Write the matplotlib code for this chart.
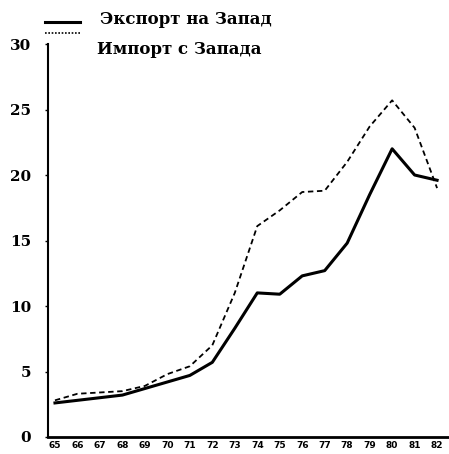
import matplotlib.pyplot as plt
from matplotlib.lines import Line2D

# Годы (последние две цифры) и значения
years = list(range(65, 83))
year_labels = [str(y) for y in years]
export_west = [2.6, 2.8, 3.0, 3.2, 3.7, 4.2, 4.7, 5.7, 8.3, 11.0, 10.9, 12.3, 12.7, 14.8, 18.5, 22.0, 20.0, 19.6]
import_west = [2.8, 3.3, 3.4, 3.5, 3.9, 4.8, 5.4, 7.0, 11.0, 16.1, 17.3, 18.7, 18.8, 21.0, 23.7, 25.7, 23.6, 19.0]
y_ticks = [0, 5, 10, 15, 20, 25, 30]

W, H = 449, 454
fig = plt.figure(figsize=(W / 100, H / 100), dpi=100)
ax = fig.add_axes([48 / W, (H - 437) / H, 1 - 48 / W, (437 - 44) / H])

ax.plot(years, export_west, color='black', lw=2.2, solid_joinstyle='round')
ax.plot(years, import_west, color='black', lw=1.3, linestyle=(0, (3, 2)))

ax.set_xlim(64.69, 82.53)
ax.set_ylim(0, 30)
ax.set_xticks(years)
ax.set_xticklabels(year_labels, fontsize=6.5, family='DejaVu Sans', fontweight='bold')
ax.set_yticks(y_ticks)
ax.set_yticklabels([str(v) for v in y_ticks], fontsize=11, family='DejaVu Serif',
                   fontweight='bold')
ax.tick_params(axis='x', length=0, pad=3)
ax.tick_params(axis='y', length=2, width=1, pad=10)

for s in ('top', 'right'):
    ax.spines[s].set_visible(False)
ax.spines['left'].set_linewidth(1.5)
ax.spines['bottom'].set_linewidth(2)

# Легенда вручную
fig.add_artist(Line2D([45 / W, 80 / W], [1 - 22 / H, 1 - 22 / H], color='black', lw=2.2))
fig.add_artist(Line2D([45 / W, 80 / W], [1 - 33 / H, 1 - 33 / H], color='black', lw=1.2,
                      linestyle=(0, (1, 1))))
fig.text(100 / W, 1 - 20 / H, 'Экспорт на Запад', fontsize=12, family='DejaVu Serif',
         fontweight='bold', va='center')
fig.text(97 / W, 1 - 50 / H, 'Импорт с Запада', fontsize=12, family='DejaVu Serif',
         fontweight='bold', va='center')

fig.savefig('out.png', dpi=100, facecolor='white')
